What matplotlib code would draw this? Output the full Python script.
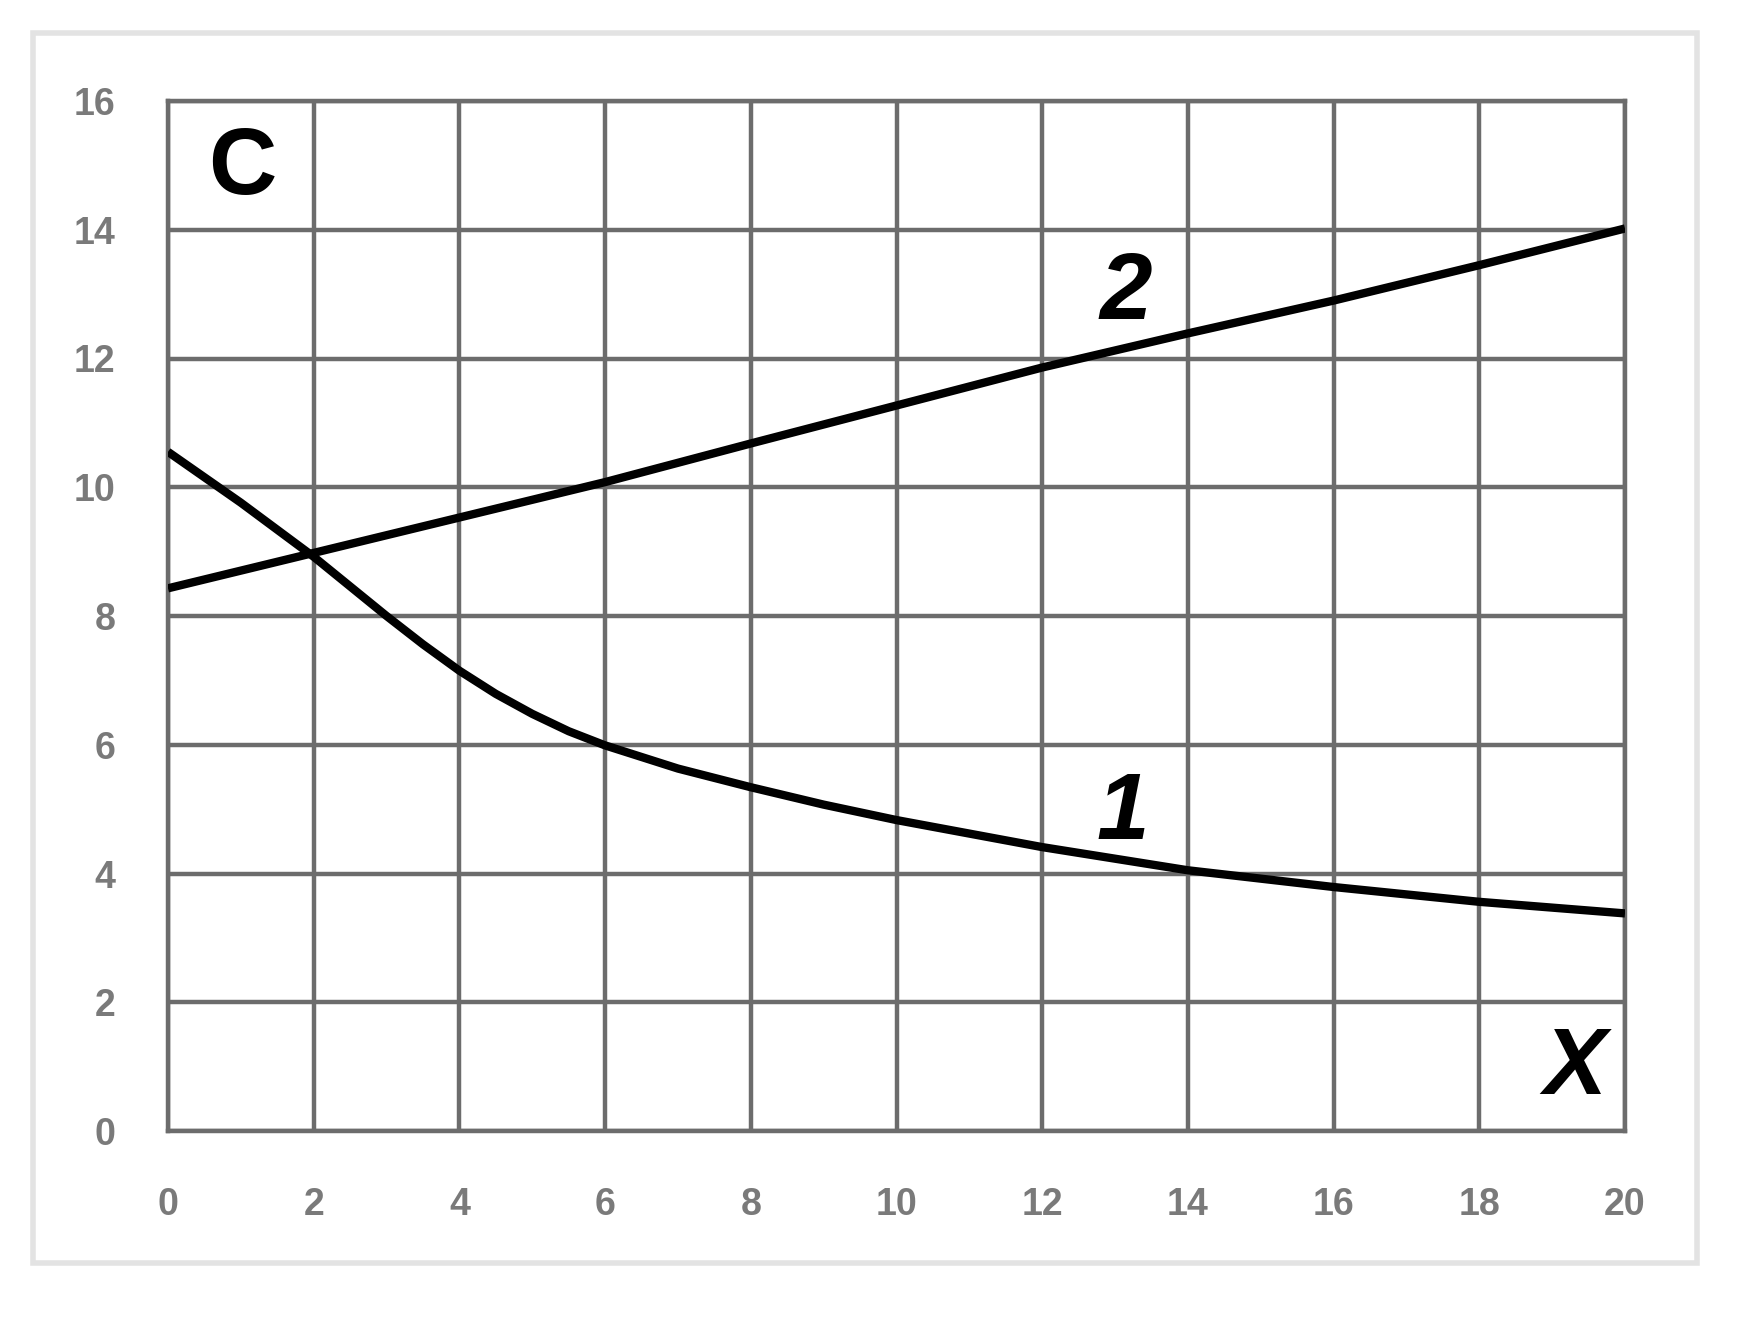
import numpy as np
import matplotlib.pyplot as plt
import matplotlib.patches as patches

# curve 1 (decreasing) and curve 2 (increasing)
x1 = [0, 1, 2, 2.5, 3, 3.5, 4, 4.5, 5, 5.5, 6, 7, 8, 9, 10, 12, 14, 16, 18, 20]
c1 = [10.55, 9.76, 8.92, 8.46, 8.0, 7.56, 7.15, 6.79, 6.48, 6.21, 5.99, 5.63, 5.34, 5.07,
      4.83, 4.41, 4.05, 3.79, 3.56, 3.38]

x2 = [0, 2, 4, 6, 8, 10, 12, 14, 16, 18, 20]
c2 = [8.43, 8.98, 9.53, 10.08, 10.68, 11.27, 11.86, 12.39, 12.9, 13.45, 14.02]

xticks = np.arange(0, 21, 2)
yticks = np.arange(0, 17, 2)

W, H = 1757, 1326
fig = plt.figure(figsize=(W / 100, H / 100), dpi=100)
ax = fig.add_axes([168 / W, 1 - 1131 / H, (1625 - 168) / W, (1131 - 101) / H])

grid_col = '#6c6c6c'
ax.set_xlim(0, 20)
ax.set_ylim(0, 16)
ax.set_xticks(xticks)
ax.set_yticks(yticks)
ax.grid(True, color=grid_col, lw=3.2, zorder=1)
ax.set_axisbelow(True)
for s in ax.spines.values():
    s.set_color(grid_col)
    s.set_linewidth(3.2)
ax.tick_params(length=0, labelsize=27, labelcolor='#7a7a7a')
ax.tick_params(axis='x', pad=40)
ax.tick_params(axis='y', pad=38)
for lab in ax.get_xticklabels() + ax.get_yticklabels():
    lab.set_fontfamily('Liberation Sans')
    lab.set_fontweight('bold')

ax.plot(x1, c1, color='black', lw=6, solid_capstyle='butt', solid_joinstyle='round', zorder=3)
ax.plot(x2, c2, color='black', lw=6, solid_capstyle='butt', solid_joinstyle='round', zorder=3)

lab_kw = dict(fontsize=68, fontweight='bold', fontfamily='Liberation Sans',
              ha='center', va='center', color='black', zorder=4)
ax.text(1.02, 14.94, 'C', **lab_kw)
ax.text(19.31, 0.96, 'X', style='italic', **lab_kw)
ax.text(13.14, 13.0, '2', style='italic', **lab_kw)
ax.text(13.11, 4.92, '1', style='italic', **lab_kw)

# light outer frame round the whole picture
frame = patches.Rectangle((33 / W, 1 - 1263 / H), (1697 - 33) / W, (1263 - 33) / H,
                          transform=fig.transFigure, fill=False,
                          edgecolor='#e3e3e3', lw=4)
fig.patches.append(frame)

fig.savefig('out.png', dpi=100, facecolor='white')
